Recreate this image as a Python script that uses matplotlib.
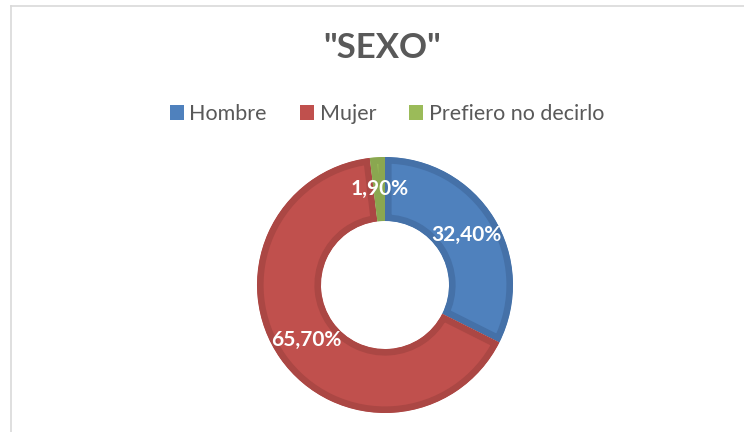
import matplotlib.pyplot as plt
from matplotlib.lines import Line2D
from matplotlib.patches import Patch

plt.rcParams['font.family'] = ['Lato', 'DejaVu Sans']

categories = ['Hombre', 'Mujer', 'Prefiero no decirlo']
values = [32.4, 65.7, 1.9]
colors = ['#4F81BD', '#C0504D', '#9BBB59']
edge_colors = ['#4571A8', '#AB4744', '#8AA750']

W, H = 744, 432
fig = plt.figure(figsize=(W / 100, H / 100), dpi=100)
ax = fig.add_axes([0, 0, 1, 1])

wedges, texts, autotexts = ax.pie(
    values, colors=colors, startangle=90, counterclock=False,
    center=(385, H - 285), radius=128, frame=True,
    wedgeprops=dict(width=64, linewidth=0),
    autopct=lambda p: f'{p:.2f}%'.replace('.', ','), pctdistance=0.75,
    textprops=dict(color='white', fontsize=15, fontweight='bold'))

# darker inner border on each slice (stroke clipped to the slice itself)
for w, ec in zip(wedges, edge_colors):
    w.set_edgecolor(ec)
    w.set_linewidth(9.5)
    w.set_clip_on(True)
    w.set_clip_path(w)

ax.set_xlim(0, W)
ax.set_ylim(0, H)
ax.set_aspect('auto')
ax.axis('off')

# chart area border (only top and left visible)
fig.add_artist(Line2D([11 / W, 1], [1 - 6 / H, 1 - 6 / H], color='#d9d9d9', lw=1.2))
fig.add_artist(Line2D([11 / W, 11 / W], [0, 1 - 6 / H], color='#d9d9d9', lw=1.2))

fig.text(382 / W, 1 - 48 / H, '"SEXO"', ha='center', va='center',
         fontsize=25, fontweight='bold', color='#595959')

handles = [Patch(facecolor=c, edgecolor='none') for c in colors]
fig.legend(handles, categories, loc='center', bbox_to_anchor=(387 / W, 1 - 114 / H),
           ncol=3, frameon=False, fontsize=15.5, handlelength=0.65, handleheight=0.65,
           handletextpad=0.25, columnspacing=1.55, labelcolor='#595959')

fig.savefig('out.png', dpi=100)
